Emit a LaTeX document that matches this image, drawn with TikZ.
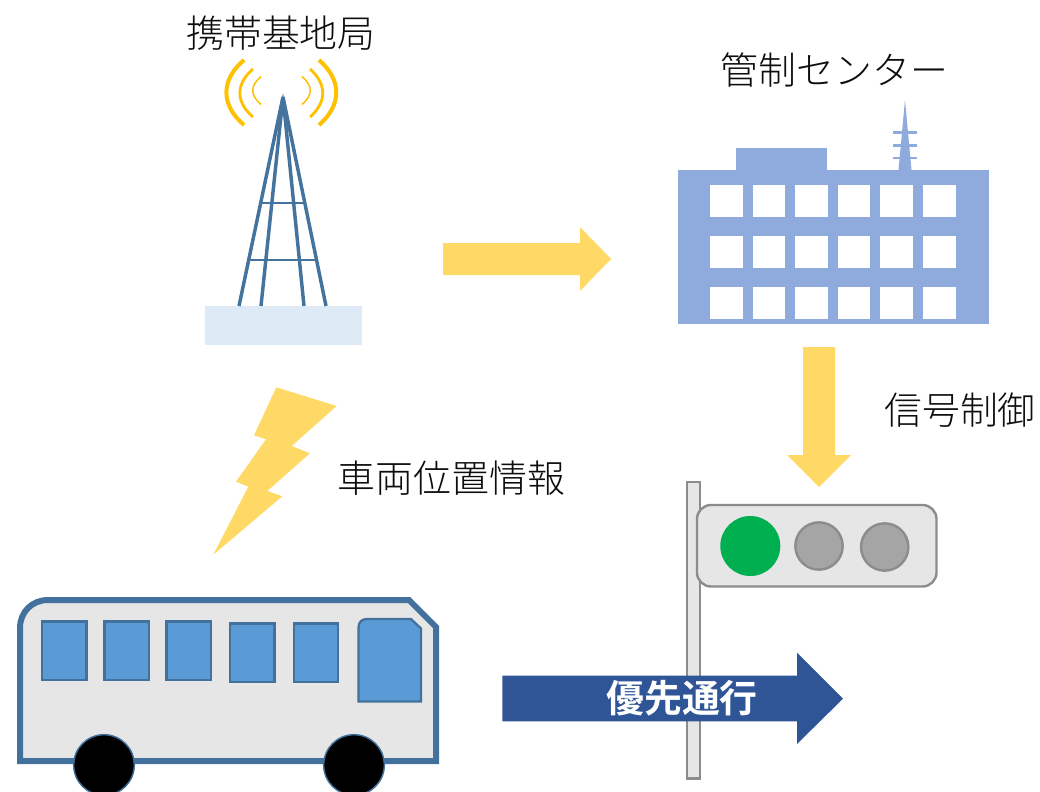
\documentclass[tikz,border=0pt]{standalone}
\usepackage{fontspec}
\newfontfamily\cjklight{Noto Sans CJK JP Light}
\newfontfamily\cjkbold{Noto Sans CJK JP Bold}
\definecolor{steel}{HTML}{41719C}
\definecolor{towerblue}{HTML}{44739E}
\definecolor{amber}{HTML}{FFC000}
\definecolor{softyellow}{HTML}{FFD966}
\definecolor{buildblue}{HTML}{8FAADC}
\definecolor{windowblue}{HTML}{5B9BD5}
\definecolor{palegray}{HTML}{E6E6E6}
\definecolor{edgegray}{HTML}{8C8C8C}
\definecolor{lampgray}{HTML}{A5A5A5}
\definecolor{lampgreen}{HTML}{00B050}
\definecolor{navyarrow}{HTML}{2F5597}
\definecolor{baseblue}{HTML}{DEEAF6}
\tikzset{
  caption/.style={font=\cjklight\fontsize{28.4}{32}\selectfont, text=black!95, inner sep=0pt},
  towerline/.style={draw=towerblue, line width=2.6pt},
  towerbar/.style={draw=towerblue, line width=1.4pt},
  wave/.style={draw=amber, line cap=butt},
  yellowshape/.style={fill=softyellow, draw=none},
  buildshape/.style={fill=buildblue, draw=none},
  windowpane/.style={fill=white, draw=none},
  buswin/.style={fill=windowblue, draw=steel, line width=1.7pt},
  wheelshape/.style={circle, fill=black, draw=steel, line width=1.1pt, minimum size=45.5pt, inner sep=0pt},
  lamp/.style={circle, fill=lampgray, draw=edgegray, line width=1.8pt, inner sep=0pt, minimum size=35.5pt},
}
\begin{document}
\begin{tikzpicture}[x=0.75pt,y=-0.75pt]
\useasboundingbox (0,0) rectangle (1040,792);
% labels
\node[caption] (lbTower) at (281,33) {携帯基地局};
\node[caption] (lbCenter) at (834.5,70) {管制センター};
\node[caption] (lbSignal) at (960,410) {信号制御};
\node[caption] (lbVehicle) at (451.5,478) {車両位置情報};
% radio waves
\draw[wave,line width=3pt] (244,60) .. controls (220.5,80) and (220.5,105) .. (244,125);
\draw[wave,line width=2.1pt] (253,69) .. controls (235.5,84) and (235.5,102) .. (253,117);
\draw[wave,line width=1.1pt] (261,76.5) .. controls (250,86) and (250,95) .. (261,104.5);
\draw[wave,line width=3pt] (319,60) .. controls (342,80) and (342,105) .. (319,125);
\draw[wave,line width=2.1pt] (310,69) .. controls (327,84) and (327,102) .. (310,117);
\draw[wave,line width=1.1pt] (302,76.5) .. controls (313,86) and (313,95) .. (302,104.5);
% tower base and tower
\fill[baseblue] (205,306) rectangle (362,345);
\fill[towerblue] (283,93) -- (279.5,112) -- (286.5,112) -- cycle;
\draw[towerline] (283,97) -- (239,306);
\draw[towerline] (283,97) -- (261,306);
\draw[towerline] (283,97) -- (304,306);
\draw[towerline] (283,97) -- (326,306);
\draw[towerbar] (261,203) -- (304,203);
\draw[towerbar] (249,260) -- (316,260);
% yellow arrows
\fill[yellowshape] (443,243) -- (580,243) -- (580,227) -- (611,259) -- (580,291) -- (580,275) -- (443,275) -- cycle;
\fill[yellowshape] (803,347) -- (835,347) -- (835,455) -- (851,455) -- (819,487) -- (787,455) -- (803,455) -- cycle;
% building
\fill[buildshape] (678,170) rectangle (989,324);
\fill[buildshape] (736,148) rectangle (827,171);
\fill[buildshape] (905,100) -- (911.5,170) -- (898.5,170) -- cycle;
\foreach \yy in {132.5,145.5,158}{\fill[buildshape] (893,\yy-1.2) rectangle (917,\yy+1.2);}
\foreach \xx in {710,752.6,795.2,837.8,880.4,923}{
  \foreach \yy in {185,236,287}{
    \fill[windowpane] (\xx,\yy) rectangle (\xx+32.5,\yy+32);
  }
}
% lightning
\fill[yellowshape] (276.3,387.3) -- (336.7,406) -- (291.7,446) -- (310,453.3) -- (267.3,491) -- (282.3,496.3) -- (213.3,554.7) -- (248.3,486.7) -- (236,481.7) -- (266,439.3) -- (254,435.3) -- cycle;
% bus
\draw[fill=palegray, draw=steel, line width=4.5pt] (48,600) -- (409,600) -- (436,627) -- (436,761) -- (20,761) -- (20,628) .. controls (20,612) and (32,600) .. (48,600) -- cycle;
\draw[buswin] (42,621.5) rectangle (86.5,680);
\draw[buswin] (104.5,621.5) rectangle (149,680);
\draw[buswin] (166.5,621.5) rectangle (211,680);
\draw[buswin] (230,623.5) rectangle (274.5,682);
\draw[buswin] (294,623.5) rectangle (338,682);
\draw[buswin] (367,619) -- (411,619) -- (421,628.5) -- (421,701.5) -- (358.5,701.5) -- (358.5,627.5) .. controls (358.5,622) and (362,619) .. (367,619) -- cycle;
\node[wheelshape] (wheelA) at (104,765) {};
\node[wheelshape] (wheelB) at (354,765) {};
% signal
\draw[fill=palegray, draw=edgegray, line width=1.8pt] (687,482) rectangle (700,778.5);
\draw[fill=palegray, draw=edgegray, line width=1.8pt, rounded corners=10.5pt] (697,505) rectangle (936.5,586.5);
\node[circle, minimum size=45pt, inner sep=0pt, fill=lampgreen] (lampGreen) at (750.3,546) {};
\node[lamp] (lampMid) at (819,546) {};
\node[lamp] (lampRight) at (884.7,547) {};
% blue arrow
\fill[navyarrow] (502.3,675.7) -- (797,675.7) -- (797,652.7) -- (843,698.7) -- (797,744) -- (797,721.3) -- (502.3,721.3) -- cycle;
\node[font=\cjkbold\fontsize{28.4}{32}\selectfont, text=white, inner sep=0pt] (lbPriority) at (682,698) {優先通行};
\end{tikzpicture}
\end{document}
